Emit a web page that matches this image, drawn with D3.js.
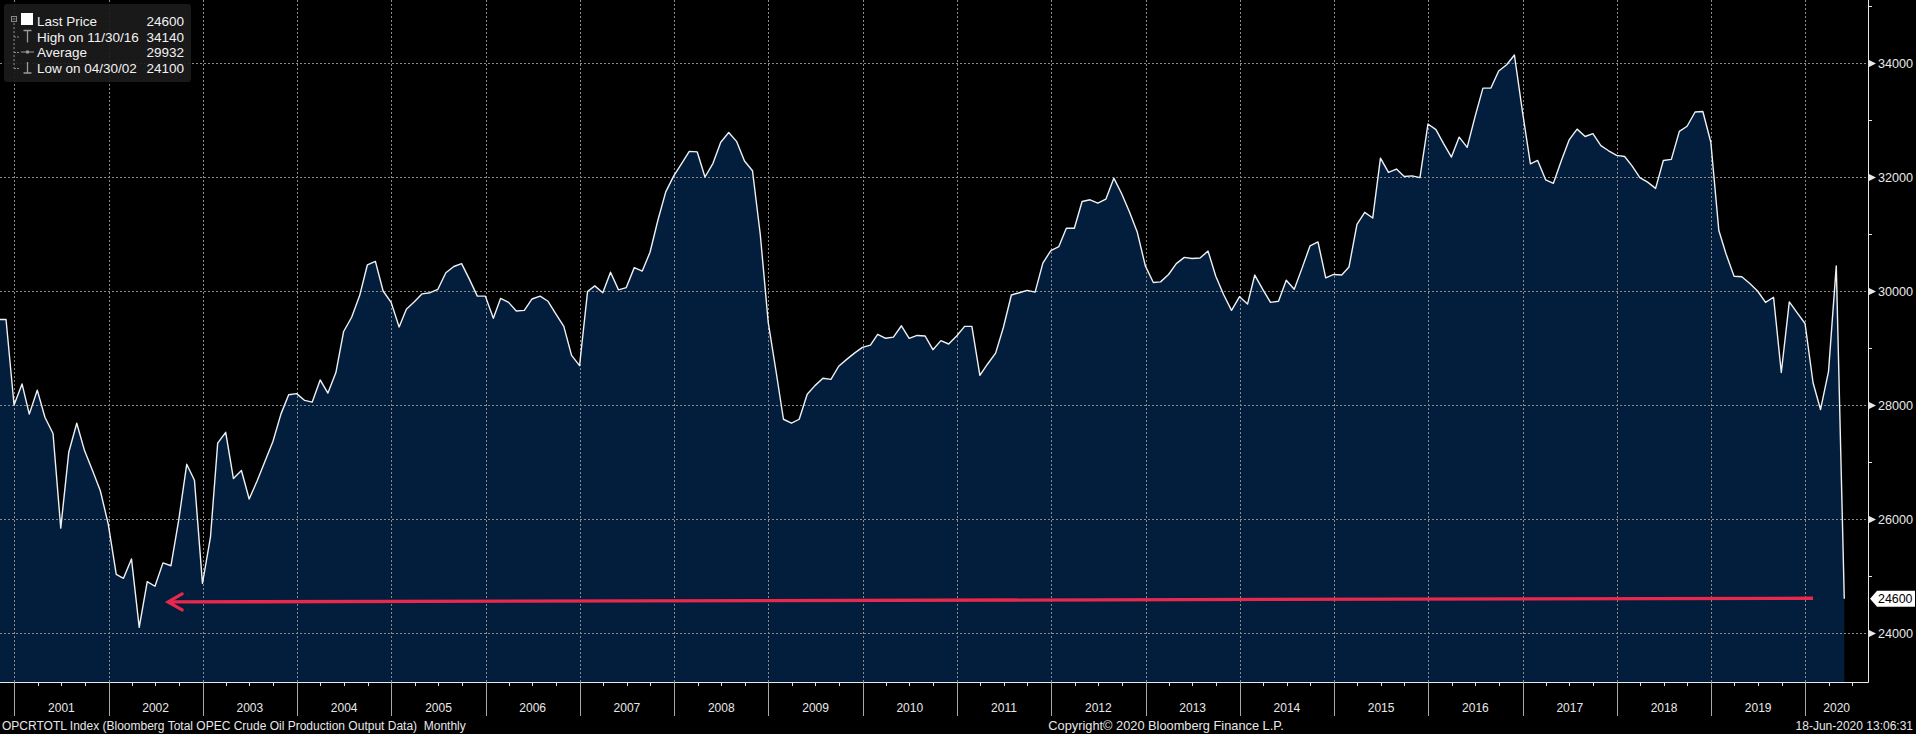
<!DOCTYPE html>
<html>
<head>
<meta charset="utf-8">
<script src="https://cdn.jsdelivr.net/npm/d3@7/dist/d3.min.js"></script>
<style>
  html, body { margin: 0; padding: 0; background: #000; }
  svg { display: block; }
  text { font-family: "Liberation Sans", Arial, sans-serif; }
</style>
</head>
<body>
<svg id="chart" width="1916" height="734"></svg>
<script>
// ---------------- DATA ----------------
// Monthly OPEC crude oil production (thousand bbl/day), end-of-month, starting Oct 2000
const firstMonth = [2000, 10];
const production = [
  29500, 29500, 28000,                                                             // 2000 Oct-Dec
  28370, 27840, 28260, 27780, 27500, 25840, 27170, 27680, 27200, 26850, 26500, 25910, // 2001
  25030, 24960, 25300, 24100, 24900, 24820, 25230, 25180, 25980, 26960, 26680, 24870, // 2002
  25680, 27330, 27520, 26710, 26850, 26350, 26670, 27020, 27360, 27840, 28180, 28200, // 2003
  28080, 28050, 28440, 28210, 28570, 29290, 29540, 29920, 30460, 30520, 30000, 29800, // 2004
  29370, 29680, 29810, 29950, 29970, 30030, 30320, 30430, 30480, 30200, 29910, 29910, // 2005
  29520, 29870, 29800, 29650, 29660, 29860, 29910, 29820, 29600, 29380, 28870, 28690, // 2006
  29990, 30090, 29970, 30330, 30020, 30060, 30410, 30350, 30680, 31250, 31740, 32020, // 2007
  32240, 32450, 32440, 32000, 32240, 32610, 32780, 32620, 32280, 32110, 31000, 29450, // 2008
  28570, 27750, 27680, 27750, 28190, 28340, 28470, 28450, 28680, 28800, 28910, 29010, // 2009
  29050, 29240, 29170, 29190, 29390, 29170, 29220, 29210, 28970, 29130, 29070, 29210, // 2010
  29380, 29380, 28520, 28720, 28910, 29360, 29930, 29970, 30010, 29980, 30490, 30710, // 2011
  30780, 31100, 31100, 31570, 31600, 31540, 31610, 31980, 31710, 31380, 31030, 30440, // 2012
  30150, 30160, 30290, 30480, 30590, 30570, 30580, 30700, 30260, 29930, 29660, 29900, // 2013
  29770, 30280, 30030, 29800, 29820, 30190, 30030, 30410, 30790, 30860, 30230, 30290, // 2014
  30280, 30420, 31170, 31380, 31280, 32330, 32080, 32140, 32010, 32020, 31990, 32930, // 2015
  32830, 32590, 32350, 32700, 32520, 33050, 33560, 33560, 33860, 33970, 34140, 33150, // 2016
  32230, 32290, 31950, 31890, 32290, 32650, 32840, 32710, 32760, 32550, 32460, 32380, // 2017
  32360, 32200, 31990, 31910, 31800, 32290, 32310, 32800, 32890, 33140, 33150, 32610, // 2018
  31060, 30650, 30260, 30250, 30130, 30000, 29800, 29890, 28570, 29810, 29620, 29430, // 2019
  28390, 27920, 28590, 30440, 24600                                                // 2020 Jan-May
];
const yearLabels = ["2001","2002","2003","2004","2005","2006","2007","2008","2009","2010",
                    "2011","2012","2013","2014","2015","2016","2017","2018","2019","2020"];
const yMajorTicks = [24000, 26000, 28000, 30000, 32000, 34000];
const yMinorTicks = [25000, 27000, 29000, 31000, 33000, 35000];
const legendLabels = ["Last Price", "High on 11/30/16", "Average", "Low on 04/30/02"];
const legendValues = ["24600", "34140", "29932", "24100"];
const lastValue = 24600;
// annotation arrow (from near 2002 low to the latest value level)
const arrowTip  = { date: "2002-08-20", value: 24545 };
const arrowTail = { date: "2020-01-31", value: 24610 };
const footerLeft = "OPCRTOTL Index (Bloomberg Total OPEC Crude Oil Production Output Data)  Monthly";
const footerMid = "Copyright\u00A9 2020 Bloomberg Finance L.P.";
const footerRight = "18-Jun-2020 13:06:31";

// ---------------- LAYOUT ----------------
const W = 1916, H = 734;
const plotL = 0, plotR = 1868, plotT = 0, plotB = 682;

const data = production.map((v, i) => {
  const m0 = firstMonth[1] - 1 + i;             // zero-based month offset
  const date = new Date(firstMonth[0], m0 + 1, 0); // last day of that month
  return { date, value: v };
});

const x = d3.scaleTime()
  .domain([new Date(2001, 0, 1), new Date(2020, 0, 1)])
  .range([14.3, 1805.3]);
const y = d3.scaleLinear().domain([24000, 34000]).range([633, 63]);

const svg = d3.select("#chart");
svg.append("rect").attr("width", W).attr("height", H).attr("fill", "#000");

svg.append("defs").append("clipPath").attr("id", "plotclip")
  .append("rect").attr("x", plotL).attr("y", plotT)
  .attr("width", plotR - plotL).attr("height", plotB - plotT);

const plot = svg.append("g").attr("clip-path", "url(#plotclip)");

// area
const area = d3.area().x(d => x(d.date)).y0(plotB).y1(d => y(d.value));
plot.append("path").datum(data).attr("d", area).attr("fill", "#031e3c");

// gridlines
const yearStarts = yearLabels.map(s => new Date(+s, 0, 1));
plot.append("g").selectAll("line").data(yMajorTicks).join("line")
  .attr("x1", plotL).attr("x2", plotR)
  .attr("y1", d => Math.round(y(d)) + 0.5).attr("y2", d => Math.round(y(d)) + 0.5)
  .attr("stroke", "#8a8a8a").attr("stroke-width", 1).attr("stroke-dasharray", "2,2");
plot.append("g").selectAll("line").data(yearStarts).join("line")
  .attr("x1", d => Math.round(x(d)) + 0.5).attr("x2", d => Math.round(x(d)) + 0.5)
  .attr("y1", plotT).attr("y2", plotB)
  .attr("stroke", "#8a8a8a").attr("stroke-width", 1).attr("stroke-dasharray", "2,2");

// line
const line = d3.line().x(d => x(d.date)).y(d => y(d.value));
plot.append("path").datum(data).attr("d", line)
  .attr("fill", "none").attr("stroke", "#eef0f2").attr("stroke-width", 1.4)
  .attr("stroke-linejoin", "round");

// red arrow
const tipX = x(new Date(arrowTip.date)), tipY = y(arrowTip.value);
const tailX = x(new Date(arrowTail.date)), tailY = y(arrowTail.value);
const red = "#e8284c";
plot.append("line").attr("x1", tipX + 1).attr("y1", tipY).attr("x2", tailX).attr("y2", tailY)
  .attr("stroke", red).attr("stroke-width", 3.3);
plot.append("path")
  .attr("d", `M${tipX + 14},${tipY - 8} L${tipX},${tipY} L${tipX + 14},${tipY + 8}`)
  .attr("fill", "none").attr("stroke", red).attr("stroke-width", 3.3)
  .attr("stroke-linejoin", "miter").attr("stroke-linecap", "round");

// ---------------- RIGHT AXIS ----------------
const axisColor = "#e8e8e8";
svg.append("line").attr("x1", plotR + 0.5).attr("x2", plotR + 0.5)
  .attr("y1", plotT).attr("y2", plotB + 0.5).attr("stroke", axisColor).attr("stroke-width", 1);
svg.append("g").selectAll("line").data(yMinorTicks).join("line")
  .attr("x1", plotR).attr("x2", plotR + 4)
  .attr("y1", d => Math.round(y(d)) + 0.5).attr("y2", d => Math.round(y(d)) + 0.5)
  .attr("stroke", axisColor);
const yt = svg.append("g").selectAll("g").data(yMajorTicks).join("g")
  .attr("transform", d => `translate(${plotR},${Math.round(y(d)) + 0.5})`);
yt.append("path").attr("d", "M1,-3.5 L8,0 L1,3.5 Z").attr("fill", axisColor);
yt.append("text").attr("x", 10).attr("y", 4.5).attr("fill", "#e8e8e8")
  .attr("font-size", 12.6).text(d => d);

// last price tag
const ly = y(lastValue);
svg.append("path")
  .attr("d", `M${plotR + 2},${ly} L${plotR + 9},${ly - 8} L1915,${ly - 8} L1915,${ly + 8} L${plotR + 9},${ly + 8} Z`)
  .attr("fill", "#ffffff");
svg.append("text").attr("x", plotR + 10).attr("y", ly + 4.5).attr("fill", "#000")
  .attr("font-size", 12.4).text(lastValue);

// ---------------- BOTTOM AXIS ----------------
svg.append("line").attr("x1", plotL).attr("x2", plotR + 0.5)
  .attr("y1", plotB + 0.5).attr("y2", plotB + 0.5).attr("stroke", axisColor);
const quarterTicks = d3.timeMonth.every(3).range(new Date(2000, 9, 1), new Date(2020, 9, 1))
  .filter(d => d.getMonth() !== 0 && x(d) >= plotL && x(d) <= plotR);
svg.append("g").selectAll("line").data(quarterTicks).join("line")
  .attr("x1", d => Math.round(x(d)) + 0.5).attr("x2", d => Math.round(x(d)) + 0.5)
  .attr("y1", plotB).attr("y2", plotB + 4).attr("stroke", axisColor);
svg.append("g").selectAll("line").data(yearStarts).join("line")
  .attr("x1", d => Math.round(x(d)) + 0.5).attr("x2", d => Math.round(x(d)) + 0.5)
  .attr("y1", plotB).attr("y2", 716).attr("stroke", "#a8a8a8");
svg.append("g").selectAll("text").data(yearLabels).join("text")
  .attr("x", (d, i) => {
    const a = x(yearStarts[i]);
    const b = Math.min(x(new Date(+d + 1, 0, 1)), plotR);
    return (a + b) / 2;
  })
  .attr("y", 712).attr("text-anchor", "middle").attr("fill", "#e8e8e8")
  .attr("font-size", 12).text(d => d);

// footer
svg.append("text").attr("x", 2).attr("y", 730).attr("fill", "#e8e8e8")
  .attr("font-size", 12).attr("xml:space", "preserve").text(footerLeft);
svg.append("text").attr("x", 1166).attr("y", 730).attr("text-anchor", "middle")
  .attr("fill", "#e8e8e8").attr("font-size", 12.8).text(footerMid);
svg.append("text").attr("x", 1913).attr("y", 730).attr("text-anchor", "end")
  .attr("fill", "#e8e8e8").attr("font-size", 12).text(footerRight);

// ---------------- LEGEND ----------------
const lg = svg.append("g");
lg.append("rect").attr("x", 4).attr("y", 4).attr("width", 187).attr("height", 78)
  .attr("rx", 3).attr("fill", "#1b1b1b").attr("fill-opacity", 0.92);
const rowY = [21, 36.5, 52, 68];
// tree lines
lg.append("rect").attr("x", 11.5).attr("y", 16.5).attr("width", 5).attr("height", 5)
  .attr("fill", "none").attr("stroke", "#8a8a8a");
lg.append("line").attr("x1", 12.5).attr("x2", 15.5).attr("y1", 19).attr("y2", 19).attr("stroke", "#8a8a8a");
lg.append("line").attr("x1", 14).attr("x2", 14).attr("y1", 23).attr("y2", 68.5)
  .attr("stroke", "#8a8a8a").attr("stroke-dasharray", "2,2");
lg.append("g").selectAll("line").data(rowY.slice(1)).join("line")
  .attr("x1", 14).attr("x2", 19).attr("y1", d => d + 0.5).attr("y2", d => d + 0.5)
  .attr("stroke", "#8a8a8a").attr("stroke-dasharray", "2,1");
// icons
lg.append("rect").attr("x", 21).attr("y", 13).attr("width", 12).attr("height", 12).attr("fill", "#ffffff");
const ic = "#9a9a9a";
lg.append("path").attr("d", `M23.5,${rowY[1] - 6} H31.5 M27.5,${rowY[1] - 6} V${rowY[1] + 6}`)
  .attr("stroke", ic).attr("stroke-width", 1.3).attr("fill", "none");
lg.append("line").attr("x1", 21).attr("x2", 34).attr("y1", rowY[2]).attr("y2", rowY[2]).attr("stroke", ic);
lg.append("circle").attr("cx", 27.5).attr("cy", rowY[2]).attr("r", 1.8).attr("fill", ic);
lg.append("path").attr("d", `M27.5,${rowY[3] - 6} V${rowY[3] + 5} M23.5,${rowY[3] + 5} H31.5`)
  .attr("stroke", ic).attr("stroke-width", 1.3).attr("fill", "none");
lg.append("g").selectAll("text").data(legendLabels).join("text")
  .attr("x", 37).attr("y", (d, i) => rowY[i] + 5).attr("fill", "#f2f2f2")
  .attr("font-size", 13.5).text(d => d);
lg.append("g").selectAll("text").data(legendValues).join("text")
  .attr("x", 184).attr("y", (d, i) => rowY[i] + 5).attr("text-anchor", "end")
  .attr("fill", "#f2f2f2").attr("font-size", 13.5).text(d => d);
</script>
</body>
</html>
